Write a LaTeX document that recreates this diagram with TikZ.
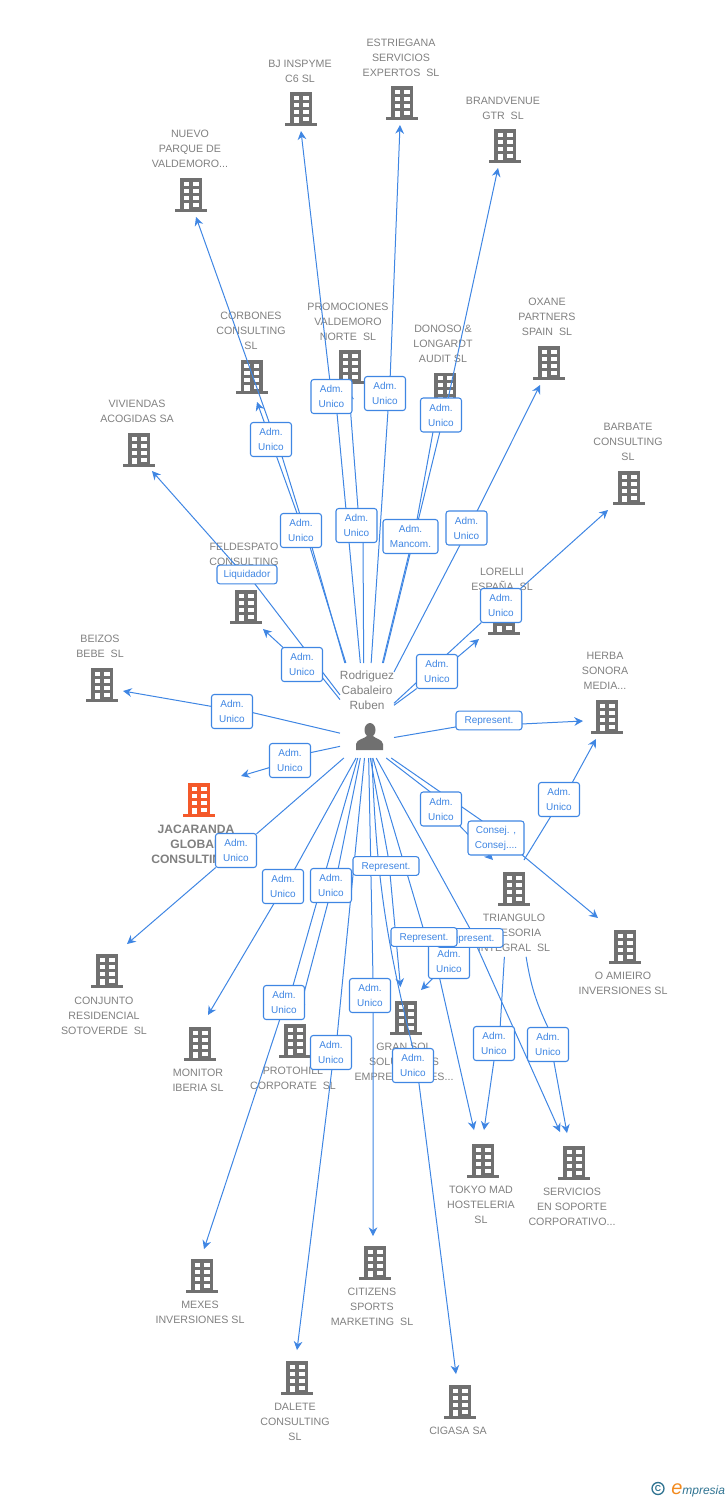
\documentclass[tikz,border=0pt]{standalone}
\usepackage{fontspec}
\setmainfont{Liberation Sans}
\usetikzlibrary{arrows.meta}
\definecolor{linkblue}{HTML}{3F86E3}
\definecolor{bldgray}{HTML}{707070}
\definecolor{txtgray}{HTML}{808080}
\definecolor{bldorange}{HTML}{F4592A}
\definecolor{logoteal}{HTML}{2F7391}
\definecolor{logoorange}{HTML}{F28A1E}
\pgfdeclarelayer{back}
\pgfsetlayers{back,main}
\tikzset{
  building/.pic={
    \path[pic actions] (-11,-16.5) rectangle (11,14);
    \path[pic actions] (-16,14) rectangle (16,17);
    \foreach \wy in {-13,-6,1}{
      \fill[white] (-7.5,\wy) rectangle (-2,\wy+4);
      \fill[white] (2,\wy) rectangle (7.5,\wy+4);
    }
    \fill[white] (-7.5,8) rectangle (-2,14);
    \fill[white] (2,8) rectangle (7.5,12);
  },
  company/.style={
    align=center,
    inner sep=0pt,
    outer sep=3.75pt,
    yshift=-0.75pt,
    text=txtgray,
    font=\fontsize{8}{11.25}\selectfont
    },
  role/.style={
    rectangle,
    rounded corners=2pt,
    draw=linkblue,
    line width=0.8pt,
    fill=white,
    align=center,
    inner sep=0pt,
    outer sep=0pt,
    text=linkblue,
    minimum width=30.75pt,
    minimum height=25.5pt,
    font=\fontsize{7.5}{11.25}\selectfont
    },
  wide/.style={minimum width=49.5pt, minimum height=14pt, text height=5.5pt, text depth=0.3pt},
  link/.style={draw=linkblue, line width=0.75pt},
  arrow/.style={link, -{Stealth[length=6.5pt,width=6.5pt]}},
}

\begin{document}
\begin{tikzpicture}[x=0.75pt,y=-0.75pt]
    \useasboundingbox (0,0) rectangle (728,1500);

    % The person in the middle
    \node[rectangle, inner sep=0pt, outer sep=0pt, minimum width=40.5pt, minimum height=71.25pt] (person) at (367,710.5) {};
    \node[company, font=\fontsize{8.9}{11.25}\selectfont] (person-name) at (367,689) {Rodriguez\\Cabaleiro\\Ruben};
    \fill[bldgray] (370,730) ellipse (5.5 and 7);
    \fill[bldgray] (356,750) -- (356,744) .. controls (357,739) and (364,739) .. (367,736) -- (373,736) .. controls (376,739) and (382,739) .. (383,744) -- (383,750) -- cycle;

    % Draw the role boxes, the lower ones first
    \foreach \name / \x / \y / \txt in {
        beizos/232/711.5/{Adm.\\Unico}, lost/290/760.5/{Adm.\\Unico},
        conjunto/236/850.5/{Adm.\\Unico}, monitor/283/886.5/{Adm.\\Unico},
        protohill/331/885.5/{Adm.\\Unico}, mexes/284/1002.5/{Adm.\\Unico},
        dalete/331/1052.5/{Adm.\\Unico}, citizens/370/995.5/{Adm.\\Unico},
        cigasa/413/1065.5/{Adm.\\Unico}, gransol2/449/961.5/{Adm.\\Unico},
        tokyo2/494/1043.5/{Adm.\\Unico}, servicios2/548/1044.5/{Adm.\\Unico},
        triangulo/441/809/{Adm.\\Unico}, herba2/559/799.5/{Adm.\\Unico},
        lorelli/437/671.5/{Adm.\\Unico}, barbate/501/605.5/{Adm.\\Unico},
        feldespato/302/664.5/{Adm.\\Unico}, corbones/301/530.5/{Adm.\\Unico},
        nuevo/271/439.5/{Adm.\\Unico}, bj/331.5/396.5/{Adm.\\Unico},
        promociones/356.5/525.5/{Adm.\\Unico}, estriegana/385/393.5/{Adm.\\Unico},
        brandvenue/441/415/{Adm.\\Unico}, oxane/466.5/528/{Adm.\\Unico}}
        \node[role] (r-\name) at (\x,\y) {\txt};
    \node[role, minimum width=42pt] (r-amieiro) at (496,838) {Consej. ,\\Consej....};
    \node[role, minimum width=41.25pt] (r-donoso) at (410.5,536.5) {Adm.\\Mancom.};
    \foreach \name / \x / \y / \txt in {
        servicios/470/938/Represent., tokyo/424/937/Represent.,
        gransol/386/866/Represent., herba/489/720.5/Represent.}
        \node[role, wide] (r-\name) at (\x,\y) {\txt};
    \node[role, wide, minimum width=45pt] (r-viviendas) at (247,574.5) {Liquidador};

    \begin{pgfonlayer}{back}
    % Draw the companies
    \foreach \name / \x / \y / \tx / \ty / \txt in {
        nuevo/191/194.5/190/148/{NUEVO\\PARQUE DE\\VALDEMORO...},
        bj/301/108.5/300/70.5/{BJ INSPYME\\C6 SL},
        estriegana/402/102.5/401/57/{ESTRIEGANA\\SERVICIOS\\EXPERTOS\ \ SL},
        brandvenue/505/145.5/503/107.5/{BRANDVENUE\\GTR\ \ SL},
        corbones/251.5/376.5/251/330/{CORBONES\\CONSULTING\\SL},
        promociones/350/366.5/348/321/{PROMOCIONES\\VALDEMORO\\NORTE\ \ SL},
        donoso/445/389/443/343/{DONOSO \&\\LONGARDT\\AUDIT SL},
        oxane/549/362.5/547/316/{OXANE\\PARTNERS\\SPAIN\ \ SL},
        viviendas/139/449.5/137/410.5/{VIVIENDAS\\ACOGIDAS SA},
        barbate/629/487.5/628/441/{BARBATE\\CONSULTING\\SL},
        feldespato/246/606.5/244/553.5/{FELDESPATO\\CONSULTING},
        lorelli/504/617.5/502/578.5/{LORELLI\\ESPAÑA\ \ SL},
        beizos/102/684.5/100/645.5/{BEIZOS\\BEBE\ \ SL},
        herba/607/716.5/605/670/{HERBA\\SONORA\\MEDIA...},
        triangulo/514/888.5/514/932/{TRIANGULO\\ASESORIA\\INTEGRAL\ \ SL},
        amieiro/625/946.5/623/982.5/{O AMIEIRO\\INVERSIONES SL},
        conjunto/107/970.5/104/1015/{CONJUNTO\\RESIDENCIAL\\SOTOVERDE\ \ SL},
        monitor/200/1043.5/198/1079.5/{MONITOR\\IBERIA SL},
        protohill/295/1040.5/293/1077.5/{PROTOHILL\\CORPORATE\ \ SL},
        gransol/406/1017.5/404/1061/{GRAN SOL\\SOLUCIONES\\EMPRESARIALES...},
        tokyo/483/1160.5/481/1204/{TOKYO MAD\\HOSTELERIA\\SL},
        servicios/574/1162.5/572/1206/{SERVICIOS\\EN SOPORTE\\CORPORATIVO...},
        mexes/202/1275.5/200/1311.5/{MEXES\\INVERSIONES SL},
        citizens/375/1262.5/372/1306/{CITIZENS\\SPORTS\\MARKETING\ \ SL},
        dalete/297/1377.5/295/1421/{DALETE\\CONSULTING\\SL},
        cigasa/460/1401.5/458/1430/{CIGASA SA}}
    {
        \pic[fill=bldgray] at (\x,\y) {building};
        \node[company] (c-\name) at (\tx,\ty) {\txt};
    }
    \pic[fill=bldorange] at (199,799.5) {building};
    \node[company, font=\fontsize{9.1}{11.25}\bfseries\selectfont] (c-jacaranda) at (196,843) {JACARANDA\\GLOBAL\\CONSULTING...};

    % Connect the person with every role box and on to the arrow end
    \foreach \name / \from / \rin / \rout / \tx / \ty in {
        beizos/220/357/166/123/691,
        lost/233.5/21/199/241/776,
        conjunto/244/39/220/127/944,
        monitor/257/56/242/208/1015,
        protohill/262.8/67.6/260/299/1012,
        mexes/259.3/62/256.8/204/1249,
        dalete/267.6/70.6/273/297/1350,
        citizens/272.4/80/280/373/1236,
        gransol/274.8/77/294/400.5/987,
        tokyo/277.2/96/312/474/1130,
        servicios/281.9/90/308/560/1132,
        triangulo/292.8/122.9/318/493/860,
        amieiro/297.8/129.5/327/598/918,
        herba/315.5/191/354/583/721,
        lorelli/11.5/220/35.5/479/639,
        barbate/15.5/221.8/41.8/608/510,
        feldespato/158.8/327/138/263/629,
        viviendas/150/310/141.6/152/471,
        corbones/115.8/303/103/257/402,
        nuevo/114.8/303/96.7/196/217,
        bj/98.4/288/96/301/131,
        promociones/94.8/291/85/349/391,
        estriegana/85.2/280/73.6/400/125,
        donoso/72.5/265/69/437/410,
        brandvenue/71.4/266.6/67.6/498/168,
        oxane/55.6/249/58.3/540/385}
    {
        \coordinate (to-\name) at (\tx,\ty);
        \draw[link] (person.\from) -- (r-\name.\rin);
        \draw[arrow] (r-\name.\rout) -- (to-\name);
    }

    % The ones that bend a little
    \coordinate (to-cigasa) at (456,1374);
    \draw[link] (person.276) to[bend right=6] (r-cigasa.90);
    \draw[arrow] (r-cigasa.289) -- (to-cigasa);

    % The ones that leave from the lower middle company
    \coordinate (to-gransol2) at (421,990);
    \draw[arrow] (r-gransol2.226.7) -- (to-gransol2);
    \coordinate (to-tokyo2) at (484,1130);
    \draw[link] (c-triangulo.248) -- (r-tokyo2.70.5);
    \draw[arrow] (r-tokyo2.270) -- (to-tokyo2);
    \coordinate (to-servicios2) at (567,1133);
    \draw[link] (c-triangulo.297.7) to[bend right=8] (r-servicios2.90);
    \draw[arrow] (r-servicios2.289) -- (to-servicios2);
    \coordinate (tri-out) at (524,860);
    \coordinate (to-herba2) at (596,739);
    \draw[link] (tri-out) -- (r-herba2.244.8);
    \draw[arrow] (r-herba2.52.6) -- (to-herba2);
    \end{pgfonlayer}

    % The mark in the corner
    \node[circle, draw=logoteal, line width=1pt, inner sep=0pt, minimum size=9pt, text=logoteal, font=\fontsize{6.5}{7}\bfseries\selectfont] (mark-c) at (658,1488.5) {C};
    \node[anchor=base west, inner sep=0pt, text=logoteal, font=\fontsize{9}{10}\itshape\selectfont] (mark-name) at (671,1494) {\textcolor{logoorange}{\fontsize{15}{15}\selectfont e}mpresia};
\end{tikzpicture}
\end{document}
